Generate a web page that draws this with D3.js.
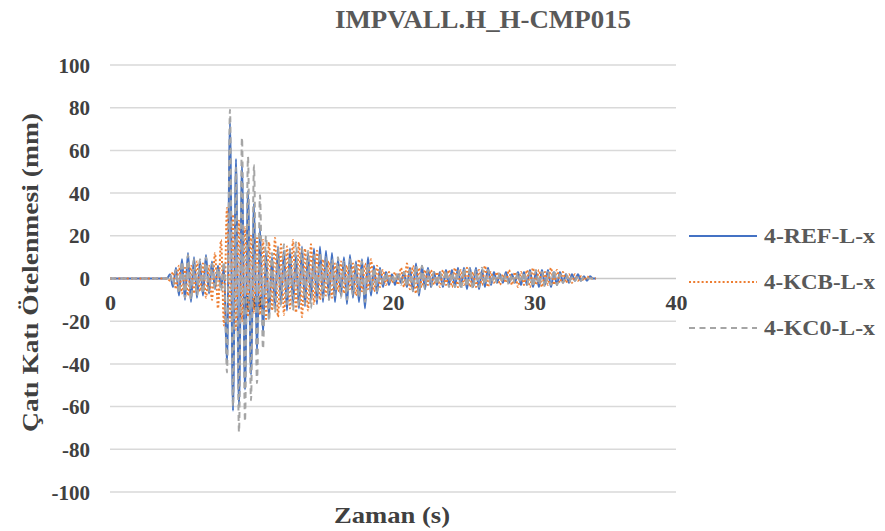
<!DOCTYPE html>
<html>
<head>
<meta charset="utf-8">
<script src="https://cdn.jsdelivr.net/npm/d3@7"></script>
<style>
  html, body { margin: 0; padding: 0; background: #ffffff; }
  svg { display: block; }
  text { font-family: "Liberation Serif", "Times New Roman", serif; font-weight: bold; fill: #595959; }
  .tick text, .axis-title { fill: #404040; }
</style>
</head>
<body>
<svg id="chart" width="885" height="531"></svg>
<script>
// Roof drift time histories (mm), one sample every DT seconds starting at T0.
// Before T0 the record is at rest.
const T0 = 4.028;
const DT = 0.212;

const seriesNames = ["4-REF-L-x", "4-KCB-L-x", "4-KC0-L-x"];

const refValues = [
  0, 2, -4, 5, -8, 9, -10, 12, -11, 10, -9, 8, -8, 11, -7, 8, -5, 6, -4, 5,
  -40, 73, -62, 56, -60, 53, -52, 41, -45, 35, -35, 24, -26, 12, -18, 10, -14, 15, -12, 13,
  -15, 14, -12, 11, -14, 15, -13, 12, -10, 14, -12, 15, -11, 13, -10, 12, -11, 9, -8, 10,
  -12, 11, -9, 8, -11, 9, -14, 10, -8, 6, -7, 5, -4, 3, -3, 2, -3, 2, -2, 3,
  -4, 5, -6, 7, -8, 6, -5, 5, -4, 3, -3, 3, -4, 4, -3, 4, -4, 5, -4, 5,
  -5, 5, -4, 5, -5, 4, -4, 5, -3, 3, -2, 2, -2, 3, -2, 2, -2, 3, -3, 3,
  -3, 4, -4, 3, -4, 4, -3, 4, -4, 3, -3, 3, -2, 2, -2, 2, -1, 2, -1, 1,
  -1, 1, 0, 0
];

const kcbValues = [
  0, -1, 3, -5, 6, -7, 5, -8, 6, -7, 8, -6, 7, -9, 6, -10, 12, -14, 18, -22,
  33, -20, 30, -24, 27, -20, 24, -18, 20, -16, 19, -17, 18, -19, 17, -15, 19, -18, 16, -17,
  15, -14, 18, -16, 17, -18, 14, -15, 16, -12, 13, -10, 9, -8, 8, -9, 7, -6, 8, -7,
  6, -5, 7, -8, 9, -6, 7, -5, 9, -6, 6, -4, 4, -3, 3, -2, 3, -3, 5, -4,
  7, -5, 6, -7, 5, -4, 4, -3, 4, -3, 3, -4, 4, -3, 4, -4, 5, -4, 4, -3,
  5, -4, 3, -4, 4, -3, 6, -4, 3, -2, 3, -3, 2, -2, 4, -3, 3, -4, 3, -3,
  4, -4, 5, -3, 4, -4, 3, -3, 5, -3, 4, -2, 3, -2, 2, -2, 2, -1, 1, -1,
  1, 0, 0, 0
];

const kc0Values = [
  0, 2, -3, 4, -7, 8, -9, 11, -10, 9, -8, 9, -7, 10, -6, 7, -5, 5, -6, 8,
  -44, 79, -60, 52, -72, 66, -67, 57, -57, 53, -49, 39, -33, 20, -20, 12, -16, 14, -13, 16,
  -12, 13, -15, 17, -13, 14, -12, 13, -14, 11, -10, 12, -9, 10, -10, 9, -8, 10, -9, 8,
  -10, 9, -8, 7, -9, 8, -11, 7, -6, 5, -6, 4, -3, 3, -2, 2, -2, 3, -3, 3,
  -4, 4, -6, 6, -7, 6, -5, 4, -4, 3, -3, 3, -3, 4, -4, 3, -4, 4, -5, 5,
  -4, 5, -5, 4, -4, 5, -3, 4, -3, 2, -2, 3, -2, 2, -3, 2, -2, 3, -2, 3,
  -3, 3, -4, 4, -3, 3, -4, 3, -3, 4, -3, 2, -2, 2, -2, 1, -1, 1, -1, 1,
  0, 0, 0, 0
];

const seriesValues = [refValues, kcbValues, kc0Values];
const seriesColors = ["#4472C4", "#ED7D31", "#A5A5A5"];
const seriesDash = [null, "2,2.2", "6,4.5"];

const xTicks = [0, 10, 20, 30, 40];
const yTicks = [-100, -80, -60, -40, -20, 0, 20, 40, 60, 80, 100];

const titleText = "IMPVALL.H_H-CMP015";
const xTitle = "Zaman (s)";
const yTitle = "Çatı Katı Ötelenmesi (mm)";

// Build (time, value) rows: a resting start at t = 0, then the sampled record.
function toRows(values) {
  const rows = [{ t: 0, v: 0 }];
  values.forEach((v, i) => rows.push({ t: T0 + i * DT, v }));
  return rows;
}

const svg = d3.select("#chart");
const plot = { left: 110, right: 676, top: 65, bottom: 492 };

const x = d3.scaleLinear().domain([0, 40]).range([plot.left, plot.right]);
const y = d3.scaleLinear().domain([-100, 100]).range([plot.bottom, plot.top]);

// Plain hyphen-minus in tick labels
const fmt = d => String(d);

// Horizontal gridlines
svg.append("g")
  .selectAll("line")
  .data(yTicks)
  .join("line")
  .attr("x1", plot.left)
  .attr("x2", plot.right)
  .attr("y1", d => y(d))
  .attr("y2", d => y(d))
  .attr("stroke", d => d === 0 ? "#c8c8c8" : "#d9d9d9")
  .attr("stroke-width", 1.5);

// Y axis tick labels
const yAxis = d3.axisLeft(y).tickValues(yTicks).tickFormat(fmt).tickSize(0).tickPadding(0);
const yg = svg.append("g").attr("transform", `translate(${plot.left - 20},0)`).call(yAxis);
yg.select(".domain").remove();
yg.selectAll("text")
  .attr("font-family", null)
  .attr("fill", null)
  .style("font-size", "21px")
  .attr("dy", "0.34em");

// X axis tick labels, sitting just under the zero line
const xAxis = d3.axisBottom(x).tickValues(xTicks).tickFormat(fmt).tickSize(0).tickPadding(0);
const xg = svg.append("g").attr("transform", `translate(0,${y(0) + 15})`).call(xAxis);
xg.select(".domain").remove();
xg.selectAll("text")
  .attr("font-family", null)
  .attr("fill", null)
  .style("font-size", "22px")
  .attr("dy", "0.75em");

// Series lines
const line = d3.line()
  .x(d => x(d.t))
  .y(d => y(d.v))
  .curve(d3.curveMonotoneX);

const lines = svg.append("g");
seriesValues.forEach((vals, k) => {
  lines.append("path")
    .datum(toRows(vals))
    .attr("fill", "none")
    .attr("stroke", seriesColors[k])
    .attr("stroke-width", 2)
    .attr("stroke-dasharray", seriesDash[k])
    .attr("d", line);
});

// Title
svg.append("text")
  .attr("x", 483)
  .attr("y", 28)
  .attr("text-anchor", "middle")
  .attr("textLength", 296)
  .attr("lengthAdjust", "spacingAndGlyphs")
  .style("font-size", "26px")
  .text(titleText);

// Axis titles
svg.append("text")
  .attr("class", "axis-title")
  .attr("x", 334)
  .attr("y", 523)
  .attr("textLength", 116)
  .attr("lengthAdjust", "spacingAndGlyphs")
  .style("font-size", "24px")
  .text(xTitle);

svg.append("text")
  .attr("class", "axis-title")
  .attr("transform", `translate(38,432) rotate(-90)`)
  .attr("textLength", 319)
  .attr("lengthAdjust", "spacingAndGlyphs")
  .style("font-size", "24px")
  .text(yTitle);

// Legend
const legend = svg.append("g");
seriesNames.forEach((name, k) => {
  const ly = 236 + k * 46;
  legend.append("line")
    .attr("x1", 689)
    .attr("x2", 757)
    .attr("y1", ly)
    .attr("y2", ly)
    .attr("stroke", seriesColors[k])
    .attr("stroke-width", 2)
    .attr("stroke-dasharray", seriesDash[k]);
  legend.append("text")
    .attr("x", 764)
    .attr("y", ly + 7)
    .attr("textLength", 111)
    .attr("lengthAdjust", "spacingAndGlyphs")
    .style("font-size", "21px")
    .text(name);
});
</script>
</body>
</html>
